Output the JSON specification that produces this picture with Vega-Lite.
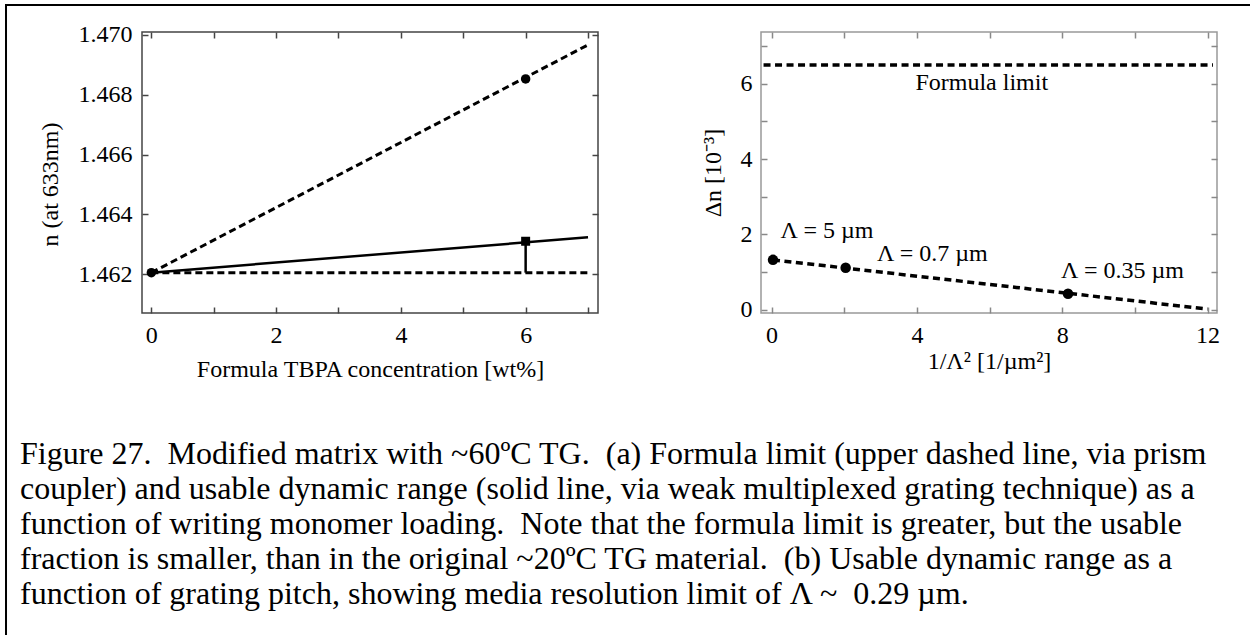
{
  "$schema": "https://vega.github.io/schema/vega-lite/v6.json",
  "padding": {"left": 5, "top": 4, "right": 0, "bottom": 0},
  "background": "white",
  "config": {
    "font": "Liberation Serif",
    "view": {"stroke": null},
    "axis": {
      "grid": false, "domain": false, "tickSize": 6, "offset": -6, "tickWidth": 1.5, "tickColor": "#444",
      "labelFont": "Liberation Serif", "labelFontSize": 24, "labelColor": "black",
      "titleFont": "Liberation Serif", "titleFontSize": 24, "titleFontWeight": "normal", "titleColor": "black",
      "labelPadding": 10, "titlePadding": 12, "labelFlush": false, "labelOverlap": false
    }
  },
  "datasets": {
    "decor": [{"part": "frame"}],
    "leftDashed": [
      {"series": "formula limit", "conc": 0, "n": 1.46205},
      {"series": "formula limit", "conc": 7, "n": 1.46967},
      {"series": "base", "conc": 0, "n": 1.46205},
      {"series": "base", "conc": 7, "n": 1.46205}
    ],
    "leftSolid": [
      {"series": "usable", "conc": 0, "n": 1.46205},
      {"series": "usable", "conc": 7, "n": 1.46323},
      {"series": "usable range", "conc": 6, "n": 1.46205},
      {"series": "usable range", "conc": 6, "n": 1.4631}
    ],
    "leftCircles": [{"conc": 0, "n": 1.46205}, {"conc": 6, "n": 1.46853}],
    "leftSquares": [{"conc": 6, "n": 1.4631}],
    "rightLimit": [{"inv": -0.22, "dn": 6.5}, {"inv": 12.15, "dn": 6.5}],
    "rightTrend": [{"inv": 0.04, "dn": 1.32}, {"inv": 12, "dn": 0.01}],
    "rightPoints": [{"inv": 0.04, "dn": 1.32}, {"inv": 2.04, "dn": 1.11}, {"inv": 8.16, "dn": 0.42}],
    "rightLabels": [
      {"label": "Λ = 5 µm", "inv": 0.25, "dn": 2.08},
      {"label": "Λ = 0.7 µm", "inv": 2.9, "dn": 1.47},
      {"label": "Λ = 0.35 µm", "inv": 7.97, "dn": 1.03},
      {"label": "Formula limit", "inv": 3.96, "dn": 6.02}
    ]
  },
  "hconcat": [
    {
      "width": 0.01, "height": 700,
      "view": {"stroke": "black", "strokeWidth": 2},
      "data": {"name": "decor"},
      "mark": {"type": "point", "opacity": 0, "size": 0},
      "encoding": {}
    },
    {
      "title": {
        "text": [
          "Figure 27.\u00a0 Modified matrix with ~60ºC TG.\u00a0 (a) Formula limit (upper dashed line, via prism",
          "coupler) and usable dynamic range (solid line, via weak multiplexed grating technique) as a",
          "function of writing monomer loading.\u00a0 Note that the formula limit is greater, but the usable",
          "fraction is smaller, than in the original ~20ºC TG material.\u00a0 (b) Usable dynamic range as a",
          "function of grating pitch, showing media resolution limit of Λ ~\u00a0 0.29 µm."
        ],
        "orient": "bottom", "anchor": "start", "frame": "group", "offset": 57, "dx": 13,
        "font": "Liberation Serif", "fontSize": 32, "fontWeight": "normal", "color": "black",
        "lineHeight": 35, "baseline": "top"
      },
      "vconcat": [
        {
          "width": 1300, "height": 0.01,
          "view": {"stroke": "black", "strokeWidth": 2},
          "data": {"name": "decor"},
          "mark": {"type": "point", "opacity": 0, "size": 0},
          "encoding": {}
        },
        {
          "hconcat": [
            {
              "width": 135, "height": 1,
              "data": {"name": "decor"},
              "mark": {"type": "point", "opacity": 0, "size": 0},
              "encoding": {}
            },
            {
              "hconcat": [
                {
                  "width": 456, "height": 281,
                  "view": {"stroke": "#444", "strokeWidth": 1.5},
                  "resolve": {"axis": {"x": "independent", "y": "independent"}},
                  "layer": [
                    {
                      "data": {"name": "leftDashed"},
                      "mark": {"type": "line", "color": "black", "strokeWidth": 3, "strokeDash": [7, 4]},
                      "encoding": {
                        "x": {"field": "conc", "type": "quantitative",
                          "scale": {"domain": [-0.15, 7.16], "nice": false, "zero": false},
                          "axis": {"orient": "bottom", "values": [0, 1, 2, 3, 4, 5, 6, 7],
                            "labelExpr": "datum.value % 2 === 0 ? datum.label : ''",
                            "title": "Formula TBPA concentration [wt%]", "titlePadding": 10}},
                        "y": {"field": "n", "type": "quantitative",
                          "scale": {"domain": [1.4607, 1.4701], "nice": false, "zero": false},
                          "axis": {"orient": "left", "values": [1.462, 1.464, 1.466, 1.468, 1.47], "format": ".3f",
                            "title": "n (at 633nm)", "titlePadding": 16, "titleY": 152}},
                        "detail": {"field": "series"}
                      }
                    },
                    {
                      "data": {"name": "leftSolid"},
                      "mark": {"type": "line", "color": "black", "strokeWidth": 2.5},
                      "encoding": {
                        "x": {"field": "conc", "type": "quantitative", "axis": null},
                        "y": {"field": "n", "type": "quantitative", "axis": null},
                        "detail": {"field": "series"}
                      }
                    },
                    {
                      "data": {"name": "leftCircles"},
                      "mark": {"type": "circle", "color": "black", "size": 90, "opacity": 1},
                      "encoding": {
                        "x": {"field": "conc", "type": "quantitative",
                          "axis": {"orient": "top", "values": [0, 1, 2, 3, 4, 5, 6, 7], "labels": false, "title": null}},
                        "y": {"field": "n", "type": "quantitative",
                          "axis": {"orient": "right", "values": [1.462, 1.464, 1.466, 1.468, 1.47], "labels": false, "title": null}}
                      }
                    },
                    {
                      "data": {"name": "leftSquares"},
                      "mark": {"type": "square", "color": "black", "size": 81, "opacity": 1},
                      "encoding": {
                        "x": {"field": "conc", "type": "quantitative", "axis": null},
                        "y": {"field": "n", "type": "quantitative", "axis": null}
                      }
                    }
                  ]
                },
                {
                  "width": 456, "height": 281,
                  "view": {"stroke": "#999", "strokeWidth": 1.5},
                  "resolve": {"axis": {"x": "independent", "y": "independent"}},
                  "layer": [
                    {
                      "data": {"name": "rightLimit"},
                      "mark": {"type": "line", "color": "black", "strokeWidth": 3.5, "strokeDash": [7, 4.5]},
                      "encoding": {
                        "x": {"field": "inv", "type": "quantitative",
                          "scale": {"domain": [-0.29, 12.26], "nice": false, "zero": false},
                          "axis": {"orient": "bottom", "values": [0, 2, 4, 6, 8, 10, 12], "tickColor": "#888",
                            "labelExpr": "datum.value % 4 === 0 ? datum.label : ''",
                            "title": "1/Λ² [1/µm²]", "titlePadding": 2}},
                        "y": {"field": "dn", "type": "quantitative",
                          "scale": {"domain": [-0.093, 7.38], "nice": false, "zero": false},
                          "axis": {"orient": "left", "values": [0, 1, 2, 3, 4, 5, 6, 7], "tickColor": "#888",
                            "labelExpr": "datum.value % 2 === 0 ? datum.label : ''", "labelPadding": 9,
                            "title": "Δn [10⁻³]", "titlePadding": 15}}
                      }
                    },
                    {
                      "data": {"name": "rightTrend"},
                      "mark": {"type": "line", "color": "black", "strokeWidth": 3.5, "strokeDash": [7, 4.5]},
                      "encoding": {
                        "x": {"field": "inv", "type": "quantitative", "axis": null},
                        "y": {"field": "dn", "type": "quantitative", "axis": null}
                      }
                    },
                    {
                      "data": {"name": "rightPoints"},
                      "mark": {"type": "circle", "color": "black", "size": 110, "opacity": 1},
                      "encoding": {
                        "x": {"field": "inv", "type": "quantitative",
                          "axis": {"orient": "top", "values": [0, 2, 4, 6, 8, 10, 12], "tickColor": "#888", "labels": false, "title": null}},
                        "y": {"field": "dn", "type": "quantitative",
                          "axis": {"orient": "right", "values": [0, 1, 2, 3, 4, 5, 6, 7], "tickColor": "#888", "labels": false, "title": null}}
                      }
                    },
                    {
                      "data": {"name": "rightLabels"},
                      "mark": {"type": "text", "align": "left", "baseline": "middle", "font": "Liberation Serif", "fontSize": 24, "color": "black"},
                      "encoding": {
                        "x": {"field": "inv", "type": "quantitative", "axis": null},
                        "y": {"field": "dn", "type": "quantitative", "axis": null},
                        "text": {"field": "label"}
                      }
                    }
                  ]
                }
              ],
              "spacing": 163, "bounds": "flush"
            }
          ],
          "spacing": 0, "bounds": "flush"
        }
      ],
      "spacing": 26, "bounds": "flush"
    }
  ],
  "spacing": 0, "bounds": "flush"
}
